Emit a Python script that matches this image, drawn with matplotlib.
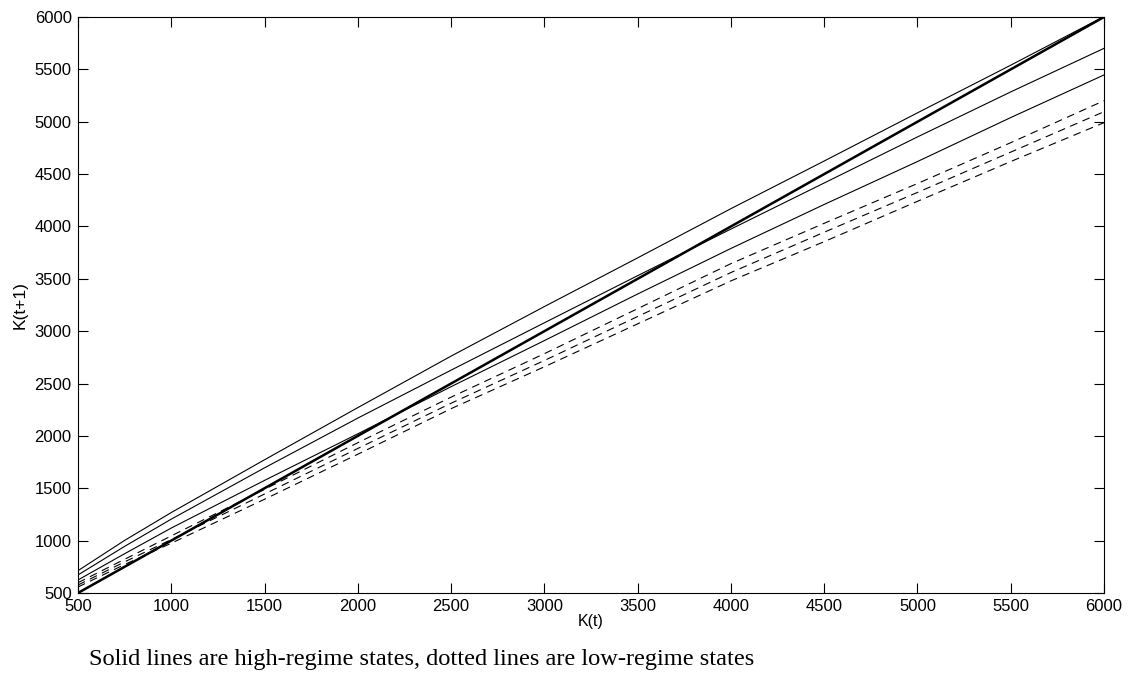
import matplotlib
matplotlib.use('Agg')
import matplotlib.pyplot as plt

# K(t) grid and K(t+1) readings
k_t = [500, 750, 1000, 1500, 2000, 2500, 3000, 3500, 4000, 4500, 5000, 5500, 6000]

# high-regime states (solid)
high_1 = [713, 1002, 1268, 1772, 2270, 2762, 3235, 3700, 4170, 4625, 5085, 5540, 6005]
high_2 = [672, 945, 1205, 1695, 2170, 2628, 3080, 3530, 3975, 4415, 4855, 5285, 5701]
high_3 = [624, 875, 1120, 1575, 2020, 2470, 2910, 3355, 3790, 4210, 4620, 5040, 5447]

# low-regime states (dashed)
low_1 = [598, 822, 1045, 1490, 1935, 2370, 2785, 3215, 3645, 4030, 4410, 4800, 5201]
low_2 = [576, 797, 1010, 1445, 1880, 2312, 2720, 3140, 3560, 3945, 4325, 4710, 5096]
low_3 = [557, 772, 975, 1395, 1825, 2260, 2660, 3070, 3480, 3855, 4240, 4620, 4991]

# 45 degree line K(t+1) = K(t)
diag_k = [500, 6000]

plt.rcParams['font.family'] = ['Liberation Sans', 'DejaVu Sans']

fig = plt.figure(figsize=(11.3, 6.73), dpi=100)
ax = fig.add_axes([0.069, 0.1189, 0.908, 0.8558])

for vals in (high_1, high_2, high_3):
    ax.plot(k_t, vals, color='black', lw=0.8)
for vals in (low_1, low_2, low_3):
    ax.plot(k_t, vals, color='black', lw=0.8, dashes=(7, 5))
ax.plot(diag_k, diag_k, color='black', lw=1.8)

ax.set_xlim(500, 6000)
ax.set_ylim(500, 6000)
ax.set_xticks(range(500, 6001, 500))
ax.set_yticks(range(500, 6001, 500))
ax.tick_params(direction='in', top=True, right=True, length=7, width=0.8,
               labelsize=12, pad=4.5)
for s in ax.spines.values():
    s.set_linewidth(0.8)

ax.set_xlabel('K(t)', fontsize=11.5, labelpad=0)
ax.set_ylabel('K(t+1)', fontsize=12.5, labelpad=5)

fig.text(0.079, 0.012, 'Solid lines are high-regime states, dotted lines are low-regime states',
         family=['Liberation Serif', 'DejaVu Serif'], fontsize=17.6)

fig.savefig('out.png', dpi=100, facecolor='white')
